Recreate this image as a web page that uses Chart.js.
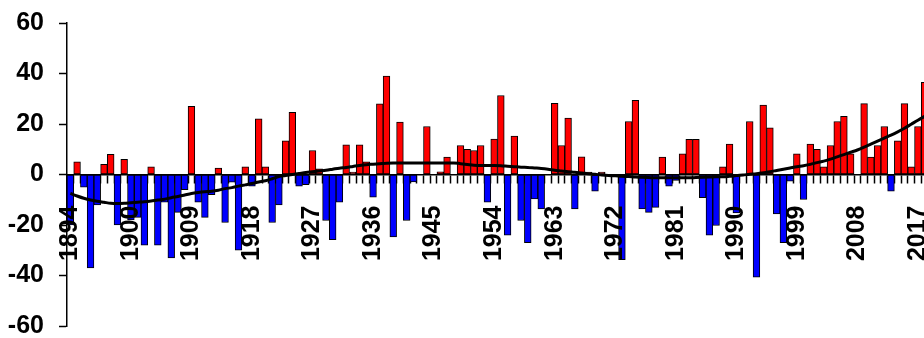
<!DOCTYPE html>
<html>
<head>
<meta charset="utf-8">
<script src="https://cdn.jsdelivr.net/npm/chart.js@4.4.1/dist/chart.umd.min.js"></script>
<style>
  html, body { margin: 0; padding: 0; background: #fff; overflow: hidden; }
  #wrap { width: 928px; height: 338px; }
</style>
</head>
<body>
<div id="wrap"><canvas id="chart"></canvas></div>
<script>
// one bar per year
const years = [
  1891, 1892, 1893, 1894, 1895, 1896, 1897, 1898, 1899, 1900, 1901, 1902, 1903, 1904, 1905, 1906,
  1907, 1908, 1909, 1910, 1911, 1912, 1913, 1914, 1915, 1916, 1917, 1918, 1919, 1920, 1921, 1922,
  1923, 1924, 1925, 1926, 1927, 1928, 1929, 1930, 1931, 1932, 1933, 1934, 1935, 1936, 1937, 1938,
  1939, 1940, 1941, 1942, 1943, 1944, 1945, 1946, 1947, 1948, 1949, 1950, 1951, 1952, 1953, 1954,
  1955, 1956, 1957, 1958, 1959, 1960, 1961, 1962, 1963, 1964, 1965, 1966, 1967, 1968, 1969, 1970,
  1971, 1972, 1973, 1974, 1975, 1976, 1977, 1978, 1979, 1980, 1981, 1982, 1983, 1984, 1985, 1986,
  1987, 1988, 1989, 1990, 1991, 1992, 1993, 1994, 1995, 1996, 1997, 1998, 1999, 2000, 2001, 2002,
  2003, 2004, 2005, 2006, 2007, 2008, 2009, 2010, 2011, 2012, 2013, 2014, 2015, 2016, 2017, 2018
];

// labels shown on every 9th category
const tickLabels = ["1894", "1900", "1909", "1918", "1927", "1936", "1945", "1954",
                    "1963", "1972", "1981", "1990", "1999", "2008", "2017"];

const anomaly = [
  -20, 5, -5, -37, -12, 4, 8, -20, 6, -18, -17, -28, 3, -28, -11, -33,
  -15, -6, 27, -11, -17, -8, 2.5, -19, -3, -30, 3, -4.6, 22, 3, -19, -12,
  13.3, 24.6, -4.6, -4, 9.5, 2.2, -18.2, -25.8, -11, 11.8, 1, 11.8, 5, -9, 28, 39,
  -24.7, 20.8, -18.2, -2.9, 0, 19, 0, 1.1, 6.9, 0, 11.5, 10, 9.5, 11.5, -11, 14,
  31.3, -24, 15.2, -18.2, -27, -9.7, -13.6, 0, 28.2, 11.5, 22.3, -13.6, 7, 1, -6.6, 1,
  0, 0, -33.7, 21, 29.4, -13.6, -15, -13, 6.9, -4.6, -2.3, 8.2, 13.9, 13.9, -9.2, -24,
  -20.2, 3, 12, -15.2, 0, 21, -40.7, 27.5, 18.5, -15.6, -27, -2.6, 8.2, -9.9, 12, 10,
  3, 11.5, 21, 23, 8.2, 0, 28.1, 6.9, 11.5, 19, -6.6, 13.3, 28.1, 3, 19, 36.5
];

// smoothed trend
const trend = [
  -7.5, -8.5, -9.4, -10.1, -10.6, -11.0, -11.4, -11.5, -11.4, -11.2, -11.0, -10.8, -10.5, -10.1, -9.8, -9.2,
  -8.7, -8.1, -7.5, -7.1, -6.8, -6.6, -6.2, -5.6, -5.2, -4.6, -4.1, -3.6, -3.0, -2.5, -1.7, -0.8,
  -0.4, 0.0, 0.4, 0.8, 1.1, 1.4, 1.7, 2.1, 2.5, 2.8, 3.2, 3.6, 3.9, 4.1, 4.3, 4.5,
  4.6, 4.6, 4.6, 4.6, 4.6, 4.6, 4.6, 4.6, 4.6, 4.6, 4.3, 4.0, 3.7, 3.6, 3.6, 3.6,
  3.5, 3.3, 3.1, 2.9, 2.8, 2.6, 2.4, 2.1, 1.7, 1.4, 1.1, 0.9, 0.6, 0.3, 0.1, -0.2,
  -0.4, -0.5, -0.7, -0.8, -1.0, -1.1, -1.2, -1.3, -1.3, -1.3, -1.3, -1.3, -1.3, -1.2, -1.1, -1.0,
  -0.9, -0.9, -0.7, -0.4, -0.2, 0.1, 0.3, 0.7, 1.1, 1.6, 2.1, 2.6, 3.1, 3.5, 4.0, 4.7,
  5.3, 6.1, 7.0, 7.9, 8.8, 9.7, 10.8, 12.0, 13.2, 14.4, 15.6, 16.9, 18.3, 19.9, 21.5, 23.0
];

const font = { family: "'Liberation Sans', Arial, sans-serif", size: 25, weight: 'bold' };

new Chart(document.getElementById('chart'), {
  data: {
    labels: years,
    datasets: [
      {
        type: 'line',
        data: trend,
        borderColor: '#000',
        borderWidth: 3,
        pointRadius: 0,
        cubicInterpolationMode: 'monotone',
        order: 0
      },
      {
        type: 'bar',
        data: anomaly,
        backgroundColor: anomaly.map(v => v >= 0 ? '#ff0000' : '#0000ff'),
        borderColor: '#000',
        borderWidth: 1,
        borderSkipped: false,
        barPercentage: 1,
        categoryPercentage: 1,
        order: 1
      }
    ]
  },
  options: {
    responsive: true,
    maintainAspectRatio: false,
    animation: false,
    devicePixelRatio: 1,
    layout: { padding: { top: 23, bottom: 12, left: 0, right: 0 } },
    plugins: { legend: { display: false }, tooltip: { enabled: false } },
    scales: {
      x: {
        type: 'category',
        position: { y: 0 },
        offset: true,
        grid: { drawOnChartArea: false, drawTicks: true, tickLength: 8, tickColor: '#000', tickWidth: 1.5, offset: true },
        border: { display: true, color: '#000', width: 1.5 },
        ticks: {
          z: 1,
          autoSkip: false,
          minRotation: 90,
          maxRotation: 90,
          padding: 23,
          color: '#000',
          font: font,
          callback: (val, i) => (i % 9 === 0 ? tickLabels[i / 9] : '')
        },
        afterFit: (s) => { s.paddingLeft = 0; s.paddingRight = 0; }
      },
      y: {
        min: -60,
        max: 60,
        grid: { drawOnChartArea: false, drawTicks: true, tickLength: 8, tickColor: '#000', tickWidth: 1.5 },
        border: { display: true, color: '#000', width: 1.5 },
        ticks: { stepSize: 20, padding: 15, color: '#000', font: font },
        afterFit: (s) => { s.width = 67; s.paddingTop = 0; s.paddingBottom = 0; }
      }
    }
  }
});
</script>
</body>
</html>
